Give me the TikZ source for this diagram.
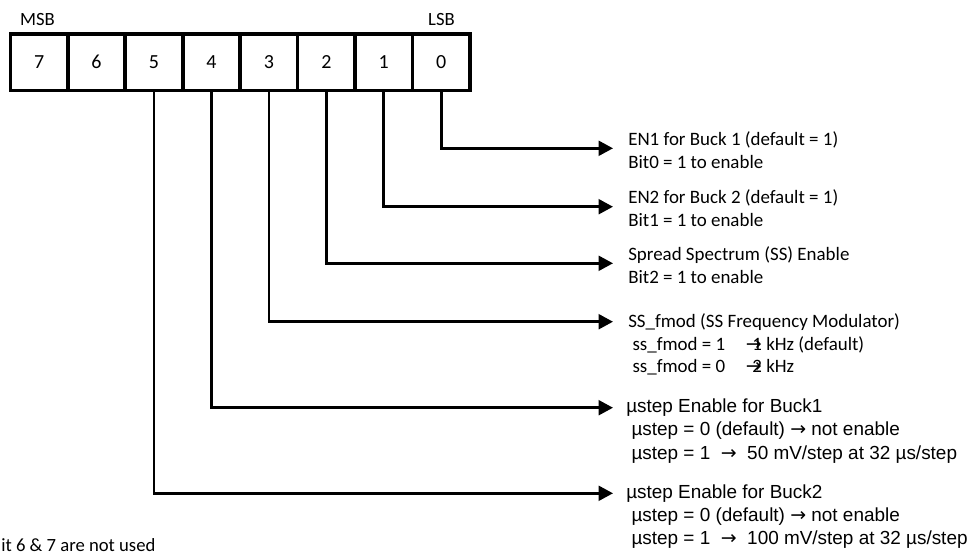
\documentclass[tikz,border=0pt]{standalone}
\usepackage{fontspec}
\setmainfont{Carlito}
\newfontfamily\arialfont{Liberation Sans}
\newfontfamily\arrowfont{DejaVu Sans}
\usetikzlibrary{arrows.meta,positioning}
\newcommand{\rarr}{{\arrowfont →}}

\begin{document}
\begin{tikzpicture}[x=0.75pt,y=-0.75pt,>={Triangle[length=10.7pt,width=11pt]},
  bitcell/.style={draw,line width=2.7pt,outer sep=0pt,inner sep=0pt,minimum width=43.1pt,minimum height=42.5pt,font=\fontsize{15}{18}\selectfont},
  tag/.style={inner sep=0pt,font=\fontsize{14}{16}\selectfont},
  conn/.style={->,line width=2pt},
  note/.style={anchor=west,align=left,inner sep=0pt,font=\fontsize{14.2}{17}\selectfont},
  unote/.style={note,font=\arialfont\fontsize{14.2}{17.5}\selectfont}]
\useasboundingbox (0,0) rectangle (975,558);
% register
\foreach \b in {0,...,7}
  \node[bitcell] (b\b) at ({441.25-57.45*\b},62.2) {\b};
\node[tag] (msb) at (37.5,20) {MSB};
\node[tag] (lsb) at (441.5,20) {LSB};
% arrow ends
\coordinate (t0) at (613,148.3);
\coordinate (t1) at (613,206.7);
\coordinate (t2) at (613,263.3);
\coordinate (t3) at (613,321.7);
\coordinate (t4) at (613,407.7);
\coordinate (t5) at (613,493.3);
% bit descriptions
\node[note] (l0) at (628,150) {EN1 for Buck 1 (default = 1)\\Bit0 = 1 to enable};
\node[note] (l1) at (628,208) {EN2 for Buck 2 (default = 1)\\Bit1 = 1 to enable};
\node[note] (l2) at (628,265) {Spread Spectrum (SS) Enable\\Bit2 = 1 to enable};
\node[note] (l3) at (628,344.4) {SS\_fmod (SS Frequency Modulator)\\
  ~\makebox[85pt][l]{ss\_fmod = 1}\rarr\kern-7pt 1 kHz (default)\\
  ~\makebox[85pt][l]{ss\_fmod = 0}\rarr\kern-7pt 2 kHz};
\node[unote] (l4) at (626,431) {µstep Enable for Buck1\\
  ~µstep = 0 (default) \rarr{} not enable\\
  ~µstep = 1 \ \rarr\ \ 50 mV/step at 32 µs/step};
\node[unote] (l5) at (626,516.6) {µstep Enable for Buck2\\
  ~µstep = 0 (default) \rarr{} not enable\\
  ~µstep = 1 \ \rarr\ \ 100 mV/step at 32 µs/step};
\node[tag,anchor=west] (unused) at (1,545) {it 6 \& 7 are not used};
% connectors
\foreach \b in {0,...,5}
  \draw[conn] (b\b.south) |- (t\b);
\end{tikzpicture}
\end{document}
